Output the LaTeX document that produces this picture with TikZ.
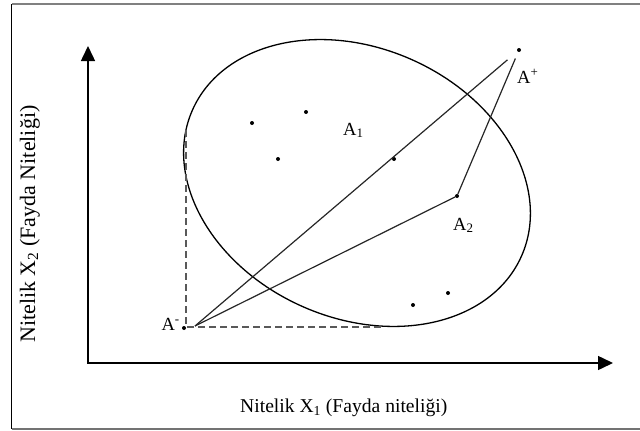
\documentclass[tikz,border=0pt]{standalone}
\usepackage{fontspec}
\setmainfont{Liberation Serif}
\usetikzlibrary{arrows.meta,positioning,calc}
\tikzset{
  dotnode/.style={circle,fill,inner sep=0pt,minimum size=4pt},
  lnode/.style={inner sep=0pt,font=\fontsize{18.5}{20}\selectfont},
  axe/.style={{Triangle[length=15pt,width=14pt]}-{Triangle[length=15pt,width=14pt]},line width=1.5pt},
  ce/.style={line width=1.2pt,black!85},
  dde/.style={dash pattern=on 7pt off 4pt,line width=1.2pt,black!65}
}

\begin{document}
\begin{tikzpicture}[x=1pt,y=-1pt]
\useasboundingbox (0,0) rectangle (640,431);
% frame
\draw[black!50,line width=1.2pt] (640,4) -- (11.5,4);
\draw[line width=1.2pt] (11.5,4) -- (11.5,429);
\draw[black!55,line width=1.6pt] (11.5,429) -- (640,429);
% axes
\coordinate (O) at (88,363);
\coordinate (Ytip) at (88,46);
\coordinate (Xtip) at (613,363);
\draw[axe] (Ytip) -- (O) -- (Xtip);
\node[anchor=base west,inner sep=0pt,font=\fontsize{19.6}{22}\selectfont] (xlbl) at (240,412) {Nitelik X\textsubscript{1} (Fayda niteliği)};
\node[anchor=base west,inner sep=0pt,rotate=90,font=\fontsize{22}{24}\selectfont] (ylbl) at (35,343) {Nitelik X\textsubscript{2} (Fayda Niteliği)};
% ellipse
\draw[line width=1.3pt] (357,183) ellipse [x radius=180pt, y radius=135pt, rotate=-24];
% points
\node[dotnode] (Am) at (184,328) {};
\node[dotnode] (Ap) at (519,50) {};
\node[dotnode] (A2) at (457,196) {};
\coordinate (Ao) at (195,326);
\coordinate (C) at (186,327);
\coordinate (Ctop) at (186,130);
\coordinate (Cright) at (383,327);
\foreach \p [count=\i] in {(252,123),(306,112),(278,159),(394,159),(413,305),(448,293)}
  \node[dotnode] (d\i) at \p {};
\node[lnode,anchor=base east] (Amlbl) at (180,330) {A\textsuperscript{-}};
\node[lnode,anchor=base west] (Aplbl) at (517,83) {A\textsuperscript{+}};
\node[lnode,anchor=base west] (A1lbl) at (343,135) {A\textsubscript{1}};
\node[lnode,anchor=base west] (A2lbl) at (453,230) {A\textsubscript{2}};
% connectors
\draw[dde] (Ctop) -- (C) -- (Cright);
\draw[ce,shorten >=13pt] (Ao) -- (Ap);
\draw[ce] (Ao) -- (A2);
\draw[ce,shorten >=7pt] (A2) -- (Ap);
\end{tikzpicture}
\end{document}
